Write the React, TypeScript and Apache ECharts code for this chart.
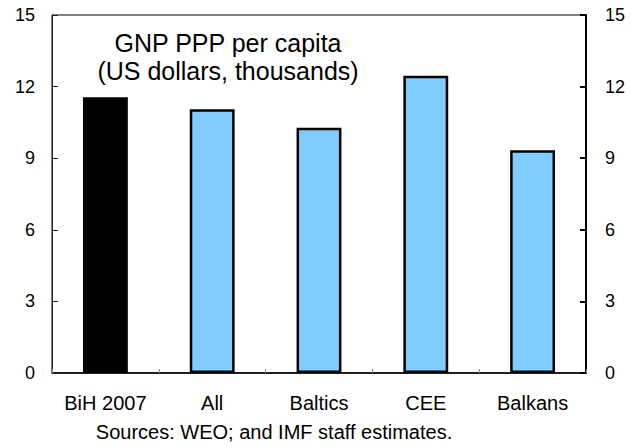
import React, { useEffect, useRef } from "react";
import * as echarts from "echarts";

const categories = ["BiH 2007", "All", "Baltics", "CEE", "Balkans"];
const values = [11.55, 11.05, 10.28, 12.45, 9.33];
const highlightIndex = 0;
const yTicks = { min: 0, max: 15, interval: 3 };
const titleLines = ["GNP PPP per capita", "(US dollars, thousands)"];
const sourceNote = "Sources: WEO; and IMF staff estimates.";

const FONT = "'Liberation Sans', Arial, sans-serif";

export default function App() {
  const ref = useRef<HTMLDivElement>(null);
  useEffect(() => {
    if (!ref.current) return;
    const chart = echarts.init(ref.current, null, { renderer: "svg" });
    const yAxisBase = {
      type: "value" as const,
      min: yTicks.min,
      max: yTicks.max,
      interval: yTicks.interval,
      splitLine: { show: false },
    };
    chart.setOption({
      animation: false,
      backgroundColor: "#ffffff",
      textStyle: { fontFamily: FONT },
      grid: {
        left: 52,
        right: 45,
        top: 15,
        bottom: 74,
        show: true,
        borderColor: "#000",
        borderWidth: 1,
        backgroundColor: "transparent",
      },
      xAxis: {
        type: "category",
        data: categories,
        axisLine: { show: true, lineStyle: { color: "#000", width: 1.5 } },
        axisTick: { show: true, inside: true, length: 4, lineStyle: { color: "#888", width: 1 } },
        axisLabel: { color: "#000", fontSize: 20, margin: 20, interval: 0, fontFamily: FONT },
      },
      yAxis: [
        {
          ...yAxisBase,
          position: "left",
          axisLine: { show: true, lineStyle: { color: "#222", width: 1 } },
          axisTick: { show: true, inside: true, length: 6, lineStyle: { color: "#222", width: 1 } },
          axisLabel: { color: "#000", fontSize: 18, margin: 17, fontFamily: FONT },
        },
        {
          ...yAxisBase,
          position: "right",
          axisLine: { show: true, lineStyle: { color: "#000", width: 2 } },
          axisTick: { show: true, inside: true, length: 6, lineStyle: { color: "#000", width: 2 } },
          axisLabel: { color: "#000", fontSize: 18, margin: 19, fontFamily: FONT },
        },
      ],
      series: [
        {
          type: "bar",
          yAxisIndex: 0,
          barWidth: "42%",
          itemStyle: {
            color: (p: any) => (p.dataIndex === highlightIndex ? "#000000" : "#80CCFF"),
            borderColor: "#000000",
            borderWidth: 2.5,
            borderType: "solid",
            opacity: 1,
          },
          data: values,
        },
      ],
      graphic: [
        {
          type: "text",
          x: 228,
          y: 29,
          style: {
            text: titleLines.join("\n"),
            textAlign: "center",
            textVerticalAlign: "top",
            font: `25px ${FONT}`,
            lineHeight: 28,
            fill: "#000",
          },
        },
        {
          type: "text",
          x: 274,
          y: 422,
          style: {
            text: sourceNote,
            textAlign: "center",
            textVerticalAlign: "top",
            font: `20px ${FONT}`,
            fill: "#000",
          },
        },
      ],
    });
    return () => chart.dispose();
  }, []);
  return (
    <div
      ref={ref}
      style={{ position: "fixed", left: 0, top: 0, width: 631, height: 447 }}
    />
  );
}
